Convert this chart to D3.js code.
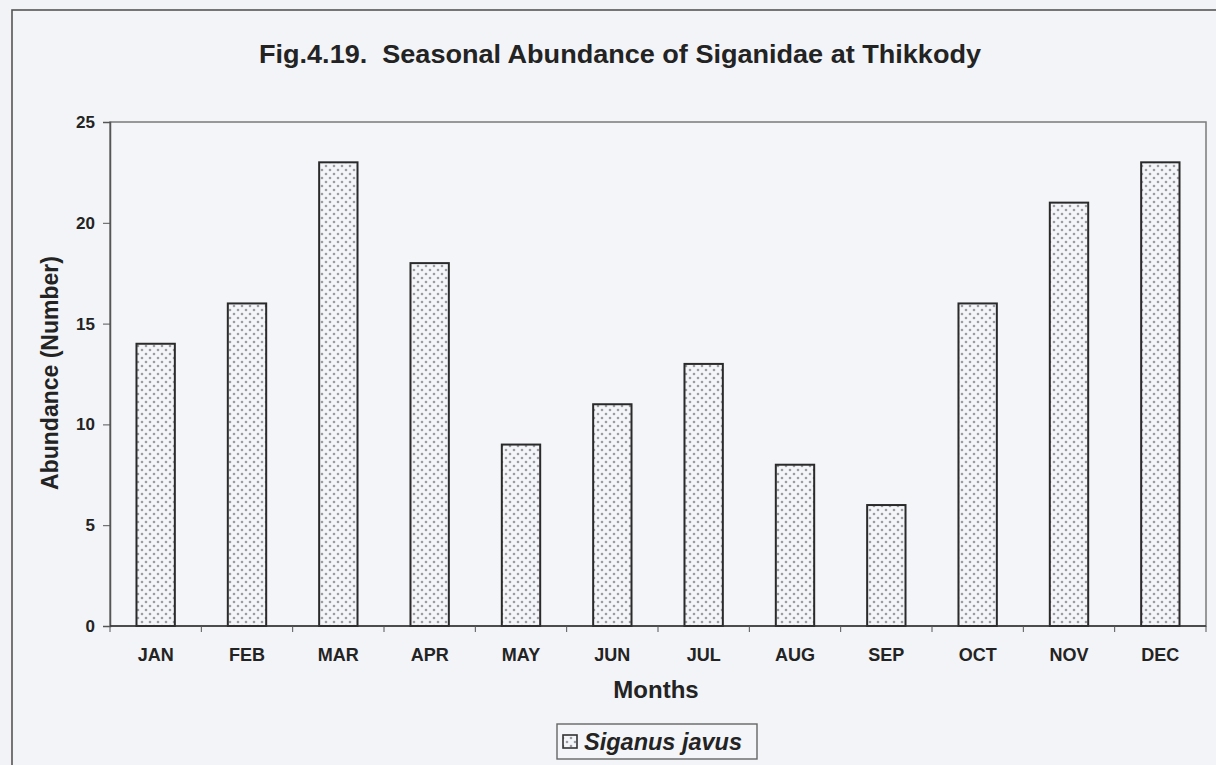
<!DOCTYPE html>
<html>
<head>
<meta charset="utf-8">
<script src="https://cdn.jsdelivr.net/npm/d3@7"></script>
<style>
  html, body { margin: 0; padding: 0; background: #f1f3f6; }
  svg { display: block; }
  text { font-family: "Liberation Sans", Arial, sans-serif; fill: #232323; }
</style>
</head>
<body>
<svg id="chart" width="1216" height="765"></svg>
<script>
// Monthly abundance of Siganus javus
const months = ["JAN","FEB","MAR","APR","MAY","JUN","JUL","AUG","SEP","OCT","NOV","DEC"];
const abundance = [14, 16, 23, 18, 9, 11, 13, 8, 6, 16, 21, 23];
const yTicks = [0, 5, 10, 15, 20, 25];
const seriesName = "Siganus javus";

const svg = d3.select("#chart");
const W = 1216, H = 765;
const plot = { left: 110, top: 122, right: 1206, bottom: 626 };

// dotted fill for the bars
const defs = svg.append("defs");
const pat = defs.append("pattern")
  .attr("id", "dots").attr("patternUnits", "userSpaceOnUse")
  .attr("width", 8).attr("height", 8);
pat.append("rect").attr("width", 8).attr("height", 8).attr("fill", "#f4f5f8");
pat.append("circle").attr("cx", 2).attr("cy", 2).attr("r", 1.3).attr("fill", "#9a9ca2");
pat.append("circle").attr("cx", 6).attr("cy", 6).attr("r", 1.3).attr("fill", "#9a9ca2");

// outer chart frame
svg.append("rect").attr("x", 12).attr("y", 10).attr("width", W + 20).attr("height", H + 20)
  .attr("fill", "#f2f4f7").attr("stroke", "#555").attr("stroke-width", 1.6);

const x = d3.scaleBand().domain(months).range([plot.left, plot.right]).paddingInner(0.58).paddingOuter(0.29);
const y = d3.scaleLinear().domain([0, 25]).range([plot.bottom, plot.top]);

// plot area border
svg.append("rect").attr("x", plot.left).attr("y", plot.top)
  .attr("width", plot.right - plot.left).attr("height", plot.bottom - plot.top)
  .attr("fill", "#f3f5f8").attr("stroke", "#7a7a7a").attr("stroke-width", 1.5);

// bars
svg.append("g").selectAll("rect").data(abundance).join("rect")
  .attr("x", (d, i) => x(months[i]))
  .attr("y", d => y(d))
  .attr("width", x.bandwidth())
  .attr("height", d => y(0) - y(d))
  .attr("fill", "url(#dots)")
  .attr("stroke", "#2a2a2a").attr("stroke-width", 2);

// y axis
const yAxis = svg.append("g").attr("transform", `translate(${plot.left},0)`)
  .call(d3.axisLeft(y).tickValues(yTicks).tickSize(7).tickPadding(8));
yAxis.select(".domain").attr("stroke", "#555").attr("stroke-width", 1.5);
yAxis.selectAll(".tick line").attr("stroke", "#555");
yAxis.selectAll(".tick text").attr("font-size", 17).attr("font-weight", "bold")
  .attr("font-family", "Liberation Sans, Arial, sans-serif").attr("fill", "#232323");

// x axis with ticks at category boundaries
const xg = svg.append("g").attr("transform", `translate(0,${plot.bottom})`);
xg.append("line").attr("x1", plot.left).attr("x2", plot.right)
  .attr("stroke", "#333").attr("stroke-width", 1.6);
const bounds = d3.range(months.length + 1).map(i => plot.left + i * (plot.right - plot.left) / months.length);
xg.selectAll("line.tk").data(bounds).join("line").attr("class", "tk")
  .attr("x1", d => d).attr("x2", d => d).attr("y1", 0).attr("y2", 6)
  .attr("stroke", "#555");
xg.selectAll("text").data(months).join("text")
  .attr("x", d => x(d) + x.bandwidth() / 2).attr("y", 35)
  .attr("text-anchor", "middle").attr("font-size", 18).attr("font-weight", "bold")
  .text(d => d);

// title
svg.append("text").attr("x", 620).attr("y", 63).attr("text-anchor", "middle")
  .attr("font-size", 25).attr("font-weight", "bold")
  .attr("xml:space", "preserve")
  .attr("textLength", 722).attr("lengthAdjust", "spacingAndGlyphs")
  .text("Fig.4.19.  Seasonal Abundance of Siganidae at Thikkody");

// axis titles
svg.append("text").attr("transform", `translate(58,373) rotate(-90)`)
  .attr("text-anchor", "middle").attr("font-size", 23).attr("font-weight", "bold")
  .text("Abundance (Number)");
svg.append("text").attr("x", 656).attr("y", 698).attr("text-anchor", "middle")
  .attr("font-size", 24).attr("font-weight", "bold").text("Months");

// legend
const lg = svg.append("g").attr("transform", "translate(557,724)");
lg.append("rect").attr("width", 200).attr("height", 35)
  .attr("fill", "#f3f5f8").attr("stroke", "#666").attr("stroke-width", 1.4);
lg.append("rect").attr("x", 6).attr("y", 11).attr("width", 14).attr("height", 13)
  .attr("fill", "url(#dots)").attr("stroke", "#333").attr("stroke-width", 1.6);
lg.append("text").attr("x", 27).attr("y", 26).attr("font-size", 23.5)
  .attr("font-weight", "bold").attr("font-style", "italic").text(seriesName);
</script>
</body>
</html>
